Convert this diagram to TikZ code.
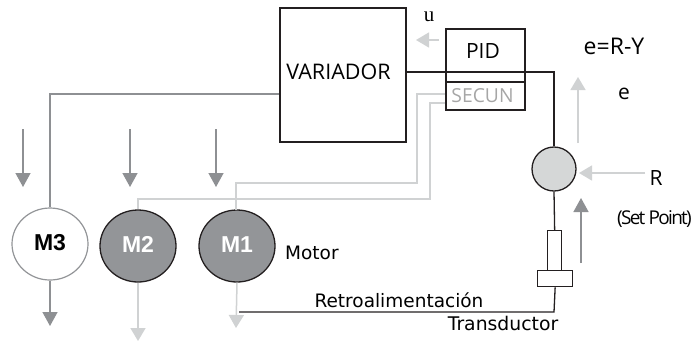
\documentclass[tikz,border=0pt]{standalone}
\usepackage{fontspec}
\setmainfont{Open Sans}
\newfontfamily\armo{Liberation Sans}
\newfontfamily\veda{DejaVu Sans}
\newfontfamily\serf{Liberation Serif}
\usetikzlibrary{arrows.meta}
\usetikzlibrary{shapes.geometric}
\definecolor{dk}{HTML}{231F20}
\definecolor{gA}{HTML}{8E9093}
\definecolor{gB}{HTML}{D0D2D3}
\definecolor{gC}{HTML}{939598}
\tikzset{
  x=1pt,y=-1pt,
  blk/.style={draw=dk,line width=2pt},
  wire/.style={draw=dk,line width=1.3pt},
  lgw/.style={draw=gB,line width=1.4pt},
  mgw/.style={draw=gA,line width=1.5pt},
  lgarrow/.style={draw=gB,line width=1.5pt,-{Triangle[length=13pt,width=15pt,fill=gB]}},
  mgarrow/.style={draw=gA,line width=1.4pt,-{Triangle[length=14pt,width=15pt,fill=gA]}},
  motor/.style={ellipse,minimum width=76pt,minimum height=72pt,inner sep=0pt,text depth=3pt,font=\armo\bfseries\fontsize{23}{23}\selectfont},
  lbl/.style={inner sep=0pt,text=black},
}
\begin{document}
\begin{tikzpicture}
\useasboundingbox (0,0) rectangle (692,341);
% blocks
\node[blk,fill=white,minimum width=126pt,minimum height=134pt,inner sep=0pt,anchor=north west] (var) at (279,7) {};
\node[lbl,font=\fontsize{21.5}{22}\selectfont] (varl) at (338.5,72) {VARIADOR};
\node[blk,minimum width=79pt,minimum height=81pt,inner sep=0pt,anchor=north west] (pid) at (445,28) {};
\node[lbl,font=\fontsize{21}{21}\selectfont] (pidl) at (483,51) {PID};
\node[lbl,text=gray!70,font=\fontsize{19.3}{20}\selectfont] (sec) at (482.5,96) {SECUN};
\coordinate (sepl) at (445,82);
\coordinate (sepr) at (524,82);
\draw[wire] (sepl) -- (sepr);
% sum and transducer
\node[circle,draw=dk,line width=1.3pt,fill=gB!90!white,minimum size=44pt,inner sep=0pt] (sum) at (554,169) {};
\node[draw=dk,line width=1.3pt,fill=white,minimum width=14pt,minimum height=40pt,inner sep=0pt,anchor=north west] (rod) at (547,230) {};
\node[draw=dk,line width=1.3pt,fill=white,minimum width=35pt,minimum height=16pt,inner sep=0pt,anchor=north west] (foot) at (537,270) {};
% motors
\node[motor,draw=gC,line width=1.2pt,fill=white,text=black] (m3) at (50,244) {M3};
\node[motor,draw=dk,line width=1.3pt,fill=gC,text=white] (m2) at (138,246) {M2};
\node[motor,draw=dk,line width=1.3pt,fill=gC,text=white] (m1) at (237,246) {M1};
% wires
\draw[wire] (var.east |- 0,72) -- (554,72) -- (sum.north);
\draw[wire] (sum.south) -- (rod.north);
\draw[wire] (foot.south) -- (554,312) -- (239,312);
\draw[mgw] (var.west |- 0,94) -- (50,94) -- (m3.north);
\draw[lgw] (pid.west |- 0,94) -- (417,94) -- (417,183) -- (236,183) -- (236,210);
\draw[lgw] (pid.west |- 0,103) -- (430,103) -- (430,199) -- (138,199) -- (m2.north);
% arrows
\coordinate (a1s) at (23,129); \coordinate (a1e) at (23,187);
\coordinate (a2s) at (130,129); \coordinate (a2e) at (130,187);
\coordinate (a3s) at (216,129); \coordinate (a3e) at (216,187);
\draw[mgarrow] (a1s) -- (a1e);
\draw[mgarrow] (a2s) -- (a2e);
\draw[mgarrow] (a3s) -- (a3e);
\coordinate (o3) at (50,326);
\coordinate (o2) at (138,341);
\coordinate (o1) at (236,328);
\draw[mgarrow] (m3.south) -- (o3);
\draw[lgarrow] (m2.south) -- (o2);
\draw[lgarrow] (m1.south) -- (o1);
\coordinate (us) at (439,40); \coordinate (ue) at (416,40);
\draw[lgarrow] (us) -- (ue);
\coordinate (es) at (578,143); \coordinate (ee) at (578,77);
\draw[lgarrow] (es) -- (ee);
\coordinate (rs) at (645,173); \coordinate (re) at (579,173);
\draw[lgarrow] (rs) -- (re);
\coordinate (ys) at (581,263); \coordinate (ye) at (581,198);
\draw[mgarrow] (ys) -- (ye);
% labels
\node[lbl,font=\serf\fontsize{21}{21}\selectfont] (u) at (429,17) {u};
\node[lbl,font=\fontsize{23}{23}\selectfont] (eq) at (614,46) {e=R-Y};
\node[lbl,font=\fontsize{21}{21}\selectfont] (e) at (624,94) {e};
\node[lbl,font=\fontsize{21}{21}\selectfont] (r) at (656,178) {R};
\node[lbl,font=\fontsize{19}{19}\selectfont,anchor=east] (sp) at (692,219) {\addfontfeature{LetterSpace=-9}(Set Point)};
\node[lbl,font=\veda\fontsize{18.5}{19}\selectfont,anchor=west] (mot) at (285,253) {Motor};
\node[lbl,font=\veda\fontsize{18.5}{19}\selectfont] (ret) at (399,300) {Retroalimentación};
\node[lbl,font=\veda\fontsize{18.8}{19}\selectfont] (tra) at (503,323) {Transductor};
\end{tikzpicture}
\end{document}
